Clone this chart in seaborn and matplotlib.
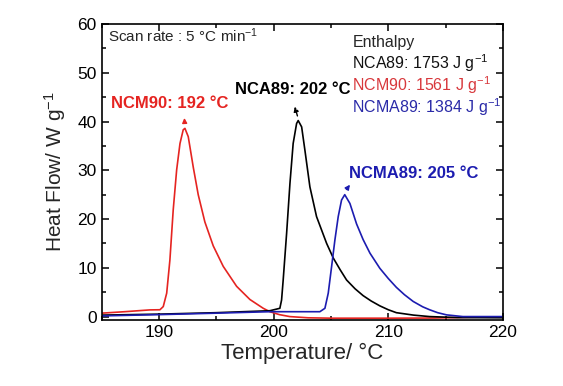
import seaborn as sns
import matplotlib.pyplot as plt
import pandas as pd
import numpy as np
from matplotlib.ticker import MultipleLocator

# data
ncm90_t = [185.0, 187.0, 189.2, 190.08, 190.37, 190.67, 190.95, 191.24, 191.54, 191.83, 192.11, 192.26,
           192.55, 192.99, 193.42, 194.0, 194.73, 195.6, 196.77, 197.93, 199.09, 199.67, 200.5, 201.4,
           203.0, 205.0, 210.0, 214.0, 217.0, 220.0]
ncm90_q = [0.7, 1.0, 1.37, 1.4, 2.05, 4.8, 11.6, 21.9, 30.1, 35.5, 38.3, 38.6,
           36.9, 30.6, 25.0, 19.4, 14.5, 10.3, 6.2, 3.5, 1.7, 1.0, 0.4, 0.0,
           -0.25, -0.33, -0.33, -0.3, -0.15, -0.05]
nca89_t = [185.0, 190.0, 195.0, 199.67, 200.54, 200.69, 200.83, 201.13, 201.42, 201.7, 202.0, 202.14,
           202.44, 202.72, 203.16, 203.74, 204.62, 205.2, 205.8, 206.36, 207.1, 207.8, 208.5, 209.26,
           210.0, 210.7, 212.2, 213.6, 216.0, 220.0]
nca89_q = [0.3, 0.5, 0.8, 1.2, 1.7, 3.4, 7.5, 17.1, 27.3, 35.5, 39.6, 40.2,
           38.9, 34.2, 26.6, 20.5, 15.0, 12.0, 9.6, 7.5, 5.7, 4.3, 3.2, 2.2,
           1.4, 0.8, 0.3, 0.0, -0.2, -0.25]
ncma89_t = [185.0, 190.0, 195.0, 199.67, 204.03, 204.47, 204.76, 205.05, 205.34, 205.63, 205.92, 206.2,
            206.65, 207.23, 207.8, 208.4, 209.26, 210.0, 210.7, 211.4, 212.17, 213.0, 213.6, 214.3,
            215.08, 216.5, 220.0]
ncma89_q = [0.14, 0.4, 0.7, 1.0, 1.0, 1.7, 4.8, 10.2, 15.7, 20.5, 23.9, 25.0,
            23.2, 19.0, 15.8, 13.0, 9.9, 7.8, 6.0, 4.5, 3.1, 2.0, 1.4, 0.8,
            0.35, 0.0, 0.0]

samples = ['NCM90', 'NCA89', 'NCMA89']
colors = {'NCM90': '#e52421', 'NCA89': '#000000', 'NCMA89': '#1c1cb0'}
peak_labels = ['NCM90: 192 °C', 'NCA89: 202 °C', 'NCMA89: 205 °C']
enthalpy = ['NCA89: 1753 J g$^{-1}$', 'NCM90: 1561 J g$^{-1}$', 'NCMA89: 1384 J g$^{-1}$']

df = pd.concat([
    pd.DataFrame({'T': ncm90_t, 'Q': ncm90_q, 'sample': 'NCM90'}),
    pd.DataFrame({'T': nca89_t, 'Q': nca89_q, 'sample': 'NCA89'}),
    pd.DataFrame({'T': ncma89_t, 'Q': ncma89_q, 'sample': 'NCMA89'}),
])

sns.set_style('ticks')
plt.rcParams['font.family'] = ['Liberation Sans', 'DejaVu Sans']
plt.rcParams['mathtext.default'] = 'regular'

fig = plt.figure(figsize=(5.63, 3.86), dpi=100)
fig.subplots_adjust(left=0.1806, right=0.8934, bottom=0.171, top=0.9378)
ax = fig.add_subplot(111)

sns.lineplot(data=df, x='T', y='Q', hue='sample', palette=colors, hue_order=samples,
             estimator=None, sort=False, legend=False, lw=1.2, ax=ax)

ax.set_xlim(185, 220)
ax.set_ylim(-0.7, 60)
ax.xaxis.set_major_locator(MultipleLocator(10))
ax.xaxis.set_minor_locator(MultipleLocator(5))
ax.yaxis.set_major_locator(MultipleLocator(10))
ax.yaxis.set_minor_locator(MultipleLocator(5))
ax.tick_params(which='both', direction='in', top=True, right=True, width=1.1, labelsize=12.5, colors='black')
ax.tick_params(which='major', length=5)
ax.tick_params(which='minor', length=3)
for s in ax.spines.values():
    s.set_linewidth(1.2)
    s.set_color('black')

ax.set_xlabel('Temperature/ °C', fontsize=16, labelpad=2)
ax.set_ylabel('Heat Flow/ W g$^{-1}$', fontsize=15, labelpad=7)

# peak labels with arrows
ax.annotate('', xy=(192.2, 41.3), xytext=(192.25, 39.2),
            arrowprops=dict(arrowstyle='-|>', color=colors['NCM90'], lw=1, mutation_scale=7))
ax.text(185.85, 43.7, peak_labels[0], color=colors['NCM90'], fontsize=12, fontweight='bold', va='center')
ax.annotate('', xy=(201.77, 43.6), xytext=(202.14, 40.6),
            arrowprops=dict(arrowstyle='-|>', color='black', lw=1, ls='--', mutation_scale=7))
ax.text(196.6, 46.5, peak_labels[1], color='black', fontsize=12, fontweight='bold', va='center')
ax.annotate('', xy=(206.8, 27.5), xytext=(206.2, 25.6),
            arrowprops=dict(arrowstyle='-|>', color=colors['NCMA89'], lw=1, mutation_scale=7))
ax.text(206.6, 29.4, peak_labels[2], color=colors['NCMA89'], fontsize=12, fontweight='bold', va='center')

ax.text(0.016, 0.959, 'Scan rate : 5 °C min$^{-1}$', transform=ax.transAxes, fontsize=11, va='center')
ax.text(0.625, 0.939, 'Enthalpy', transform=ax.transAxes, fontsize=11.5, va='center')
ent_colors = ['#111111', '#d8383c', '#2a2aa8']
for lab, c, yy in zip(enthalpy, ent_colors, [0.868, 0.794, 0.720]):
    ax.text(0.625, yy, lab, transform=ax.transAxes, fontsize=11.5, va='center', color=c)

fig.savefig('out.png', dpi=100)
